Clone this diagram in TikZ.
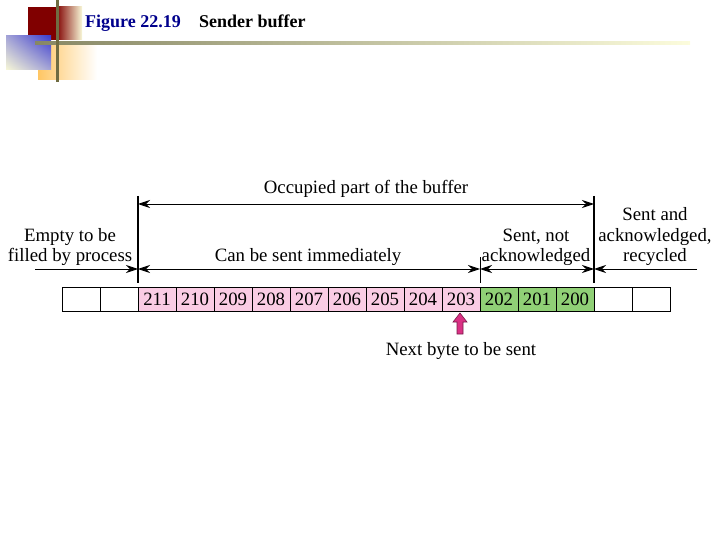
\documentclass[tikz,border=0pt]{standalone}
\usepackage{fontspec}
\setmainfont{Liberation Serif}
\usetikzlibrary{arrows.meta,shadings}
\definecolor{titleblue}{RGB}{0,0,140}
\definecolor{deckred}{RGB}{128,0,0}
\definecolor{deckblue}{RGB}{60,60,205}
\definecolor{deckmix}{RGB}{165,165,215}
\definecolor{deckpale}{RGB}{248,248,215}
\definecolor{deckorange}{RGB}{255,198,100}
\definecolor{deckolive}{RGB}{112,108,66}
\definecolor{rulegrey}{RGB}{135,135,100}
\definecolor{rulemid}{RGB}{215,218,170}
\definecolor{rulepale}{RGB}{252,252,220}
\definecolor{pinkcell}{RGB}{250,204,228}
\definecolor{greencell}{RGB}{144,208,118}
\definecolor{markpink}{RGB}{218,48,132}

\begin{document}
\begin{tikzpicture}[x=1pt, y=-1pt,
	every node/.style={font=\fontsize{18.8}{20}\selectfont, inner sep=0pt},
	>={Stealth[length=12pt, width=8pt, inset=4pt]},
	cell/.style={draw, line width=0.9pt, minimum width=38pt, minimum height=24pt},
	txt/.style={anchor=base, align=center},
	title/.style={anchor=base west, font=\fontsize{18}{20}\selectfont\bfseries}]
	\useasboundingbox (0,0) rectangle (720,540);
	\fill[deckred] (28,7) rectangle (56,40);
	\shade[left color=deckred, right color=deckpale] (56,7) rectangle (82,40);
	\shade[left color=deckorange, right color=white] (38,44) rectangle (97,80);
	\shade[upper right=deckblue, upper left=deckmix, lower right=deckmix, lower left=deckpale] (6,36) rectangle (51,70);
	\shade[left color=rulegrey, middle color=rulemid, right color=rulepale] (35,41.5) rectangle (690,44.5);
	\fill[deckolive] (55.5,0) rectangle (58.5,82);
	\node[title, titleblue] (fig) at (85,28) {Figure 22.19};
	\node[title] (cap) at (199,28) {Sender buffer};

	\node[cell] (e1) at (81,299) {};
	\node[cell] (e2) at (119,299) {};
	\foreach \v [count=\i] in {211,210,209,208,207,206,205,204,203}
		\node[cell, fill=pinkcell] (c\v) at ({119+38*\i},299) {\v};
	\foreach \v [count=\i] in {202,201,200}
		\node[cell, fill=greencell] (c\v) at ({461+38*\i},299) {\v};
	\node[cell] (e3) at (613,299) {};
	\node[cell] (e4) at (651,299) {};

	\coordinate (tL) at (138,196);
	\coordinate (bL) at (138,283);
	\coordinate (tR) at (594,196);
	\coordinate (bR) at (594,283);
	\coordinate (tM) at (480,257);
	\coordinate (bM) at (480,283);
	\draw[line width=1.1pt] (tL) -- (bL);
	\draw[line width=1.1pt] (tR) -- (bR);
	\draw[line width=0.6pt] (tM) -- (bM);

	\coordinate (occL) at (138,204);
	\coordinate (occR) at (594,204);
	\coordinate (emL) at (35,269);
	\coordinate (bufL) at (138,269);
	\coordinate (bufM) at (480,269);
	\coordinate (bufR) at (594,269);
	\coordinate (recR) at (697,269);
	\draw[<->, line width=0.9pt] (occL) -- (occR);
	\draw[->, line width=0.9pt] (emL) -- (bufL);
	\draw[<->, line width=0.9pt] (bufL) -- (bufM);
	\draw[<->, line width=0.9pt] (bufM) -- (bufR);
	\draw[->, line width=0.9pt] (recR) -- (bufR);

	\node[txt] (occ) at (366,194) {Occupied part of the buffer};
	\node[txt] (empty) at (70,261) {Empty to be\\filled by process};
	\node[txt] (now) at (308,261) {Can be sent immediately};
	\node[txt] (unack) at (536,261) {Sent, not\\acknowledged};
	\node[txt] (ack) at (655,261) {Sent and\\acknowledged,\\recycled};

	\filldraw[fill=markpink, draw=markpink!55!black, line width=0.6pt]
		(457,334) -- (457,322) -- (453,322) -- (460,313) -- (467,322) -- (463,322) -- (463,334) -- cycle;
	\node[txt] (next) at (461,355) {Next byte to be sent};
\end{tikzpicture}
\end{document}
